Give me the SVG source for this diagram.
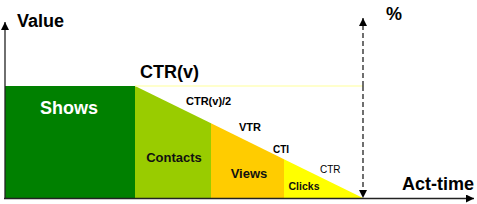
<svg xmlns="http://www.w3.org/2000/svg" width="477" height="204" viewBox="0 0 477 204">
<style>
text{font-family:"Liberation Sans",Arial,sans-serif;font-weight:bold;fill:#000}
.big{font-size:18px}
.sm{font-size:11px}
.axis{stroke:#222;stroke-width:1.3;fill:none}
</style>
<defs>
<marker id="ah" viewBox="0 0 10 10" refX="10" refY="5" markerWidth="8" markerHeight="8" markerUnits="userSpaceOnUse" orient="auto">
<path d="M0,0 L10,5 L0,10 z" fill="#000"/>
</marker>
</defs>
<rect width="477" height="204" fill="#fff"/>
<g id="shows">
<rect x="5" y="86" width="130" height="112" fill="#008000"/>
<text class="big" x="69" y="114" text-anchor="middle" style="fill:#fff">Shows</text>
</g>
<g id="contacts">
<polygon points="135,86 211,123.3 211,198 135,198" fill="#99cc00"/>
<text x="174" y="162" text-anchor="middle" style="font-size:13px;fill:#111">Contacts</text>
</g>
<g id="views">
<polygon points="211,123.3 284,159.2 284,198 211,198" fill="#ffcc00"/>
<text x="249" y="178" text-anchor="middle" style="font-size:13px;fill:#111">Views</text>
</g>
<g id="clicks">
<polygon points="284,159.2 363,198 284,198" fill="#ffff00"/>
<text x="304" y="190" text-anchor="middle" style="font-size:10.5px;fill:#111">Clicks</text>
</g>
<g id="connectors">
<line x1="135" y1="86" x2="363" y2="86" stroke="#ffff99" stroke-width="1"/>
<line class="axis" x1="5" y1="199" x2="5" y2="22" marker-end="url(#ah)"/>
<line class="axis" x1="4" y1="198.5" x2="474" y2="198.5" marker-end="url(#ah)"/>
<line class="axis" x1="363" y1="86" x2="363" y2="18" stroke-dasharray="5,3" marker-end="url(#ah)"/>
<line class="axis" x1="363" y1="86" x2="363" y2="198" stroke-dasharray="5,3" marker-end="url(#ah)"/>
</g>
<g id="labels">
<text class="big" x="17" y="27">Value</text>
<text class="big" x="386" y="20">%</text>
<text class="big" x="140" y="78">CTR(v)</text>
<text class="big" x="402" y="190">Act-time</text>
<text class="sm" x="186" y="105">CTR(v)/2</text>
<text class="sm" x="239" y="131">VTR</text>
<text x="273" y="153" style="font-size:10px">CTI</text>
<text x="320" y="173" style="font-size:10px;font-weight:normal">CTR</text>
</g>
</svg>
